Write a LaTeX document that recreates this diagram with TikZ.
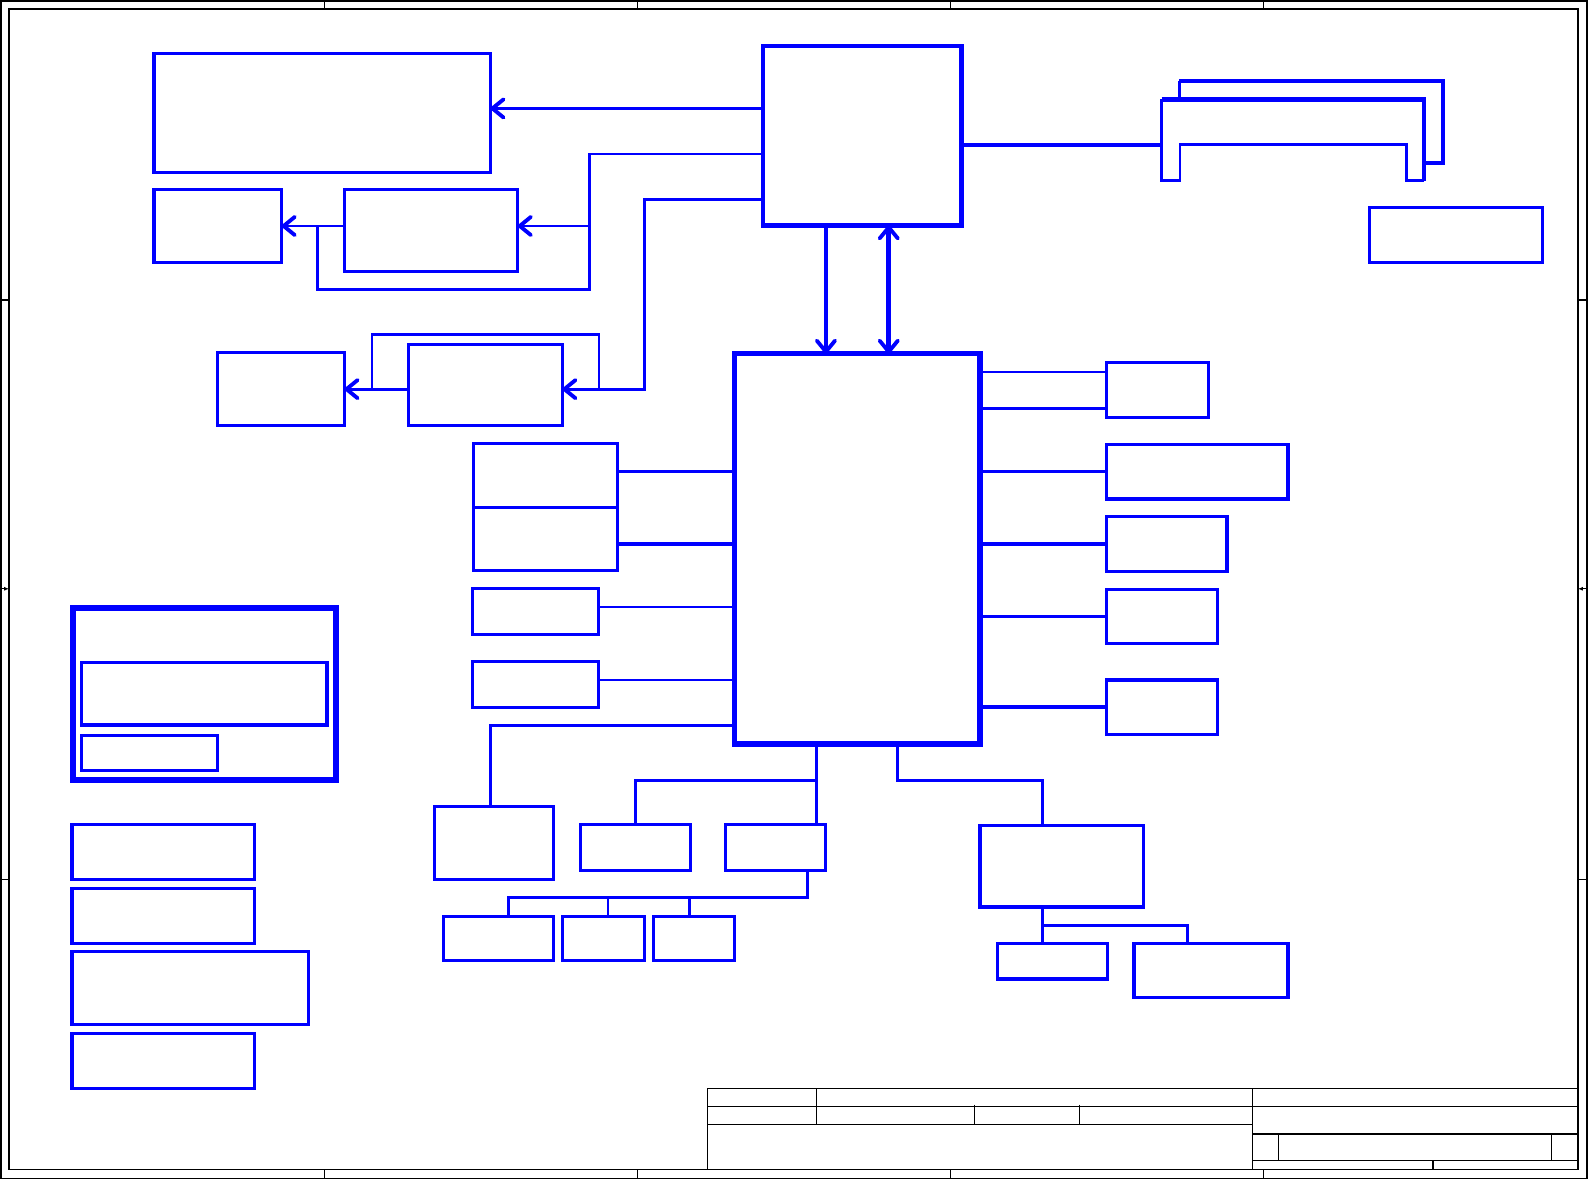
\documentclass[tikz,border=0pt]{standalone}
\usetikzlibrary{arrows.meta,fit}
\begin{document}
\begin{tikzpicture}[x=1pt,y=-1pt,>={Straight Barb[round,length=11pt,width=18pt,line width=3.8pt]},
  box/.style={draw=blue,line width=3.1pt,inner sep=0pt,outer sep=0pt},
  wire/.style={draw=blue,line width=2.8pt},
  wirex/.style={draw=blue,line width=3.5pt},
  bus/.style={draw=blue,line width=4.6pt},
  frm/.style={draw=black,line width=1.3pt},
  tb/.style={draw=black,line width=1.1pt}]
  \useasboundingbox (0,0) rectangle (1568,1164);

  % sheet frame
  \draw[frm] (1,1) rectangle (1566,1163);
  \draw[frm] (9,9) rectangle (1557,1154);
  \foreach \x in {320,629,938,1247} {
    \draw[frm] (\x,1) -- (\x,9);
    \draw[frm] (\x,1154) -- (\x,1163);
  }
  \foreach \y in {296,868} {
    \draw[frm] (1,\y) -- (9,\y);
    \draw[frm] (1557,\y) -- (1566,\y);
  }
  \draw[frm,-{Latex[length=5pt,width=4pt]}] (1,581) -- (9,581);
  \draw[frm,-{Latex[length=5pt,width=4pt]}] (1566,581) -- (1557,581);

  % title block
  \draw[tb] (698,1154) -- (698,1074) -- (1557,1074);
  \draw[tb] (698,1092) -- (1557,1092);
  \draw[tb] (698,1110) -- (1236,1110);
  \draw[tb] (806,1074) -- (806,1110);
  \draw[tb] (1236,1074) -- (1236,1154);
  \draw[tb] (962,1090) -- (962,1110);
  \draw[tb] (1065,1090) -- (1065,1110);
  \draw[tb] (1236,1119) -- (1557,1119);
  \draw[tb] (1236,1145) -- (1557,1145);
  \draw[tb] (1262,1119) -- (1262,1145);
  \draw[tb] (1531,1119) -- (1531,1145);
  \draw[tb] (1414,1145) -- (1414,1154);

  % blocks
  \node[box,line width=4.4pt,fit={(753,45.4) (949,222.4)}] (cpu) {};
  \node[box,line width=5.3pt,fit={(725,349) (967,734)}] (pch) {};
  \node[box,fit={(152,53) (484,170)}] (mem) {};
  \node[box,fit={(152,187) (278,259)}] (clka) {};
  \node[box,fit={(340,187) (511,268)}] (clkb) {};
  \node[box,fit={(215,348) (340,420)}] (lvdsa) {};
  \node[box,fit={(403,340) (555,420)}] (lvdsb) {};
  \node[box,fit={(467,438) (609,501)}] (usba) {};
  \node[box,fit={(467,501) (609,563)}] (usbb) {};
  \node[box,fit={(466,581) (591,626)}] (sata) {};
  \node[box,fit={(466,653) (591,698)}] (pcie) {};
  \node[box,fit={(429,796) (546,868)}] (spi) {};
  \node[box,fit={(573,814) (681,859)}] (lpca) {};
  \node[box,fit={(716,814) (815,859)}] (lpcb) {};
  \node[box,fit={(438,904) (546,948)}] (kbca) {};
  \node[box,fit={(555,904) (636,948)}] (kbcb) {};
  \node[box,fit={(645,904) (725,948)}] (kbcc) {};
  \node[box,fit={(967,815) (1128,895)}] (aud) {};
  \node[box,fit={(984.5,931) (1093,966)}] (auda) {};
  \node[box,fit={(1119,931) (1271,984.5)}] (audb) {};
  \node[box,fit={(1092,358) (1192.7,412)}] (lan) {};
  \node[box,fit={(1092,438.5) (1271,492.4)}] (card) {};
  \node[box,fit={(1092,510) (1210.8,563.8)}] (usbp) {};
  \node[box,fit={(1092,581.5) (1201.6,634.8)}] (cam) {};
  \node[box,fit={(1092,671) (1201.6,724.6)}] (mini) {};
  \node[box,fit={(1351,205) (1522,259)}] (pwr) {};
  % power group
  \node[box,line width=6pt,fit={(72,600) (331.3,769.7)}] (grp) {};
  \node[box,fit={(80.6,653.6) (322.7,715.4)}] (grpa) {};
  \node[box,fit={(80.6,726) (214.5,760.5)}] (grpb) {};
  \node[box,fit={(71,814) (251,868)}] (pa) {};
  \node[box,fit={(71,877) (251,931)}] (pb) {};
  \node[box,fit={(71,939) (304,1011)}] (pc) {};
  \node[box,fit={(71,1020) (251,1074)}] (pd) {};

  % dimm slots
  \coordinate (slot) at (1146.3,143);
  \draw[blue,line width=3pt] (1163.5,98) -- (1163.5,79.6);
  \draw[blue,line width=4pt] (1163.5,79.6) -- (1423.6,79.6) -- (1423.6,161.1) -- (1405.2,161.1);
  \draw[blue,line width=2.8pt] (1405.2,178.3) -- (1388.1,178.3) -- (1388.1,143) -- (1164.4,143)
    -- (1164.4,178.3) -- (1146.3,178.3) -- (slot) -- (1146.3,98);
  \draw[blue,line width=4.4pt] (1146.3,98) -- (1405.2,98) -- (1405.2,178.3);
  \draw[bus] (cpu.east |- slot) -- (slot);

  % cpu side
  \draw[wire,->] (cpu.west |- 0,107) -- (mem.east |- 0,107);
  \coordinate (ta) at (582,286);
  \coordinate (tb) at (313,286);
  \draw[wire] (cpu.west |- 0,152) -| (ta) -- (tb) -- (tb |- clka.east);
  \draw[wire,->] (ta |- clka.east) -- (clkb.east |- clka.east);
  \draw[wire,->] (clkb.west |- clka.east) -- (clka.east);
  \coordinate (tc) at (636,384);
  \coordinate (td) at (367,330);
  \coordinate (te) at (591,330);
  \draw[wire,->] (cpu.west |- 0,197) -| (tc) -- (lvdsb.east |- tc);
  \draw[wire] (td |- lvdsa.east) -- (td) -- (te) -- (te |- lvdsa.east);
  \draw[wire,->] (lvdsb.west |- lvdsa.east) -- (lvdsa.east);
  \draw[bus,->] (cpu.south -| 815,0) -- (pch.north -| 815,0);
  \draw[bus,<->] (cpu.south -| 877,0) -- (pch.north -| 877,0);

  % pch left
  \draw[wire] (usba.east |- 0,465) -- (pch.west |- 0,465);
  \draw[wirex] (usbb.east |- 0,537) -- (pch.west |- 0,537);
  \draw[wire] (sata.east |- 0,599) -- (pch.west |- 0,599);
  \draw[wire] (pcie.east |- 0,671) -- (pch.west |- 0,671);
  \draw[wire] (pch.west |- 0,716) -| (spi.north -| 484,0);

  % pch bottom
  \draw[wire] (pch.south -| 806,0) -- (lpcb.north -| 806,0);
  \draw[wire] (806,770) -| (lpca.north);
  \draw[wire] (lpcb.south -| 797,0) |- (502,886) -- (kbca.north -| 502,0);
  \draw[wire] (600,886) -- (kbcb.north -| 600,0);
  \draw[wire] (680,886) -- (kbcc.north -| 680,0);
  \draw[wire] (pch.south -| 886,0) -- (886,770) -| (aud.north -| 1029,0);
  \draw[wire] (aud.south -| 1029,0) -- (auda.north -| 1029,0);
  \draw[wire] (1029,913) -| (audb.north -| 1172,0);

  % pch right
  \draw[wire] (pch.east |- 0,367) -- (lan.west |- 0,367);
  \draw[wirex] (pch.east |- 0,403) -- (lan.west |- 0,403);
  \draw[wire] (pch.east |- card.west) -- (card.west);
  \draw[wirex] (pch.east |- usbp.west) -- (usbp.west);
  \draw[wire] (pch.east |- cam.west) -- (cam.west);
  \draw[wirex] (pch.east |- mini.west) -- (mini.west);
\end{tikzpicture}
\end{document}
